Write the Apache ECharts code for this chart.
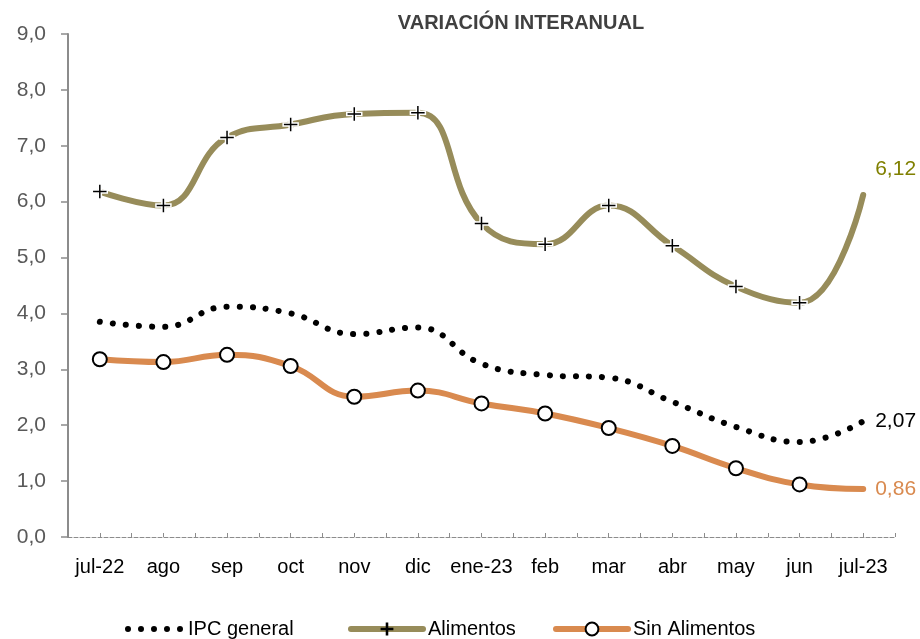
<!DOCTYPE html>
<html>
<head>
<meta charset="utf-8">
<script src="https://cdn.jsdelivr.net/npm/echarts@6/dist/echarts.min.js"></script>
<style>
  html, body { margin: 0; padding: 0; background: #fff; }
  #chart { width: 920px; height: 639px; }
</style>
</head>
<body>
<div id="chart"></div>
<script>
const months = ['jul-22', 'ago', 'sep', 'oct', 'nov', 'dic', 'ene-23', 'feb', 'mar', 'abr', 'may', 'jun', 'jul-23']
const ipcGeneral = [3.85, 3.76, 4.12, 4.0, 3.63, 3.75, 3.1, 2.9, 2.85, 2.42, 1.97, 1.7, 2.07]
const alimentos = [6.18, 5.93, 7.15, 7.38, 7.57, 7.59, 5.61, 5.24, 5.93, 5.21, 4.48, 4.19, 6.12]
const sinAlimentos = [3.18, 3.13, 3.26, 3.06, 2.51, 2.62, 2.39, 2.21, 1.95, 1.63, 1.23, 0.94, 0.86]

const olive = '#978C5A'
const orange = '#D98A4F'
const font = '"Liberation Sans", Arial, sans-serif'
const plus = 'path://M4,0H6V4H10V6H6V10H4V6H0V4H4Z'
// five round dots for the IPC legend key
const dots = 'path://' + [3, 16, 29, 42, 55]
  .map(c => `M${c - 3},3a3,3 0 1,0 6,0a3,3 0 1,0 -6,0Z`).join(' ')

// x is a value axis so ticks can sit on labels and between them;
// the last point of each series has no marker
const pairs = arr => arr.map((v, i) =>
  i === arr.length - 1 ? { value: [i, v], symbol: 'none' } : [i, v])
const fmt = p => p.value[1].toFixed(2).replace('.', ',')

const legendText = { fontFamily: font, fontSize: 20, color: '#000' }

const chart = echarts.init(document.getElementById('chart'))
chart.setOption({
  animation: false,
  title: {
    text: 'VARIACIÓN INTERANUAL',
    left: 516,
    textAlign: 'center',
    top: 8,
    textStyle: { fontFamily: font, fontSize: 20, fontWeight: 'bold', color: '#404040' }
  },
  grid: { left: 68, right: 25, top: 34, bottom: 102 },
  legend: [
    {
      left: 120, top: 614,
      itemWidth: 58, itemHeight: 6,
      textStyle: legendText,
      data: [{ name: 'IPC general', icon: dots }]
    },
    {
      left: 343, top: 614,
      itemWidth: 72, itemHeight: 16,
      textStyle: legendText,
      data: [{ name: 'Alimentos', lineStyle: { width: 6 }, itemStyle: { borderWidth: 0 } }]
    },
    {
      left: 548, top: 614,
      itemWidth: 72, itemHeight: 16,
      textStyle: legendText,
      data: [{ name: 'Sin Alimentos', lineStyle: { width: 6 } }]
    }
  ],
  xAxis: {
    type: 'value',
    min: -0.5,
    max: 12.5,
    interval: 0.5,
    splitLine: { show: false },
    axisLine: { show: true, lineStyle: { color: '#8c8c8c', type: 'dashed', width: 1 } },
    axisTick: { show: true, inside: true, length: 4, lineStyle: { color: '#8c8c8c' } },
    axisLabel: {
      fontFamily: font,
      fontSize: 20,
      color: '#000',
      margin: 20,
      showMinLabel: true,
      showMaxLabel: true,
      formatter: v => (Number.isInteger(v) ? months[v] : '')
    }
  },
  yAxis: {
    type: 'value',
    min: 0,
    max: 9,
    interval: 1,
    splitLine: { show: false },
    axisLine: { show: true, onZero: false, lineStyle: { color: '#8c8c8c', width: 2 } },
    axisTick: { show: true, length: 7, lineStyle: { color: '#8c8c8c', width: 1.5 } },
    axisLabel: {
      fontFamily: font,
      fontSize: 21,
      color: '#595959',
      margin: 22,
      formatter: v => v.toFixed(1).replace('.', ',')
    }
  },
  series: [
    {
      name: 'IPC general',
      type: 'line',
      data: pairs(ipcGeneral),
      smooth: 0.45,
      symbol: 'none',
      color: '#000',
      lineStyle: { color: '#000', width: 6, type: [0.1, 13], cap: 'round' },
      endLabel: {
        show: true, formatter: fmt,
        fontFamily: font, fontSize: 21, color: '#000', distance: 12
      }
    },
    {
      name: 'Alimentos',
      type: 'line',
      data: pairs(alimentos),
      smooth: 0.45,
      symbol: plus,
      symbolSize: 15,
      showAllSymbol: true,
      color: olive,
      lineStyle: { color: olive, width: 6, cap: 'round' },
      itemStyle: { color: '#000', borderColor: '#fff', borderWidth: 1.5 },
      endLabel: {
        show: true, formatter: fmt,
        fontFamily: font, fontSize: 21, color: '#808000', offset: [6, -26], distance: 6
      }
    },
    {
      name: 'Sin Alimentos',
      type: 'line',
      data: pairs(sinAlimentos),
      smooth: 0.45,
      symbol: 'circle',
      symbolSize: 14,
      showAllSymbol: true,
      color: orange,
      lineStyle: { color: orange, width: 6, cap: 'round' },
      itemStyle: { color: '#fff', borderColor: '#000', borderWidth: 2 },
      endLabel: {
        show: true, formatter: fmt,
        fontFamily: font, fontSize: 21, color: orange, offset: [6, 0], distance: 6
      }
    }
  ]
})
</script>
</body>
</html>
